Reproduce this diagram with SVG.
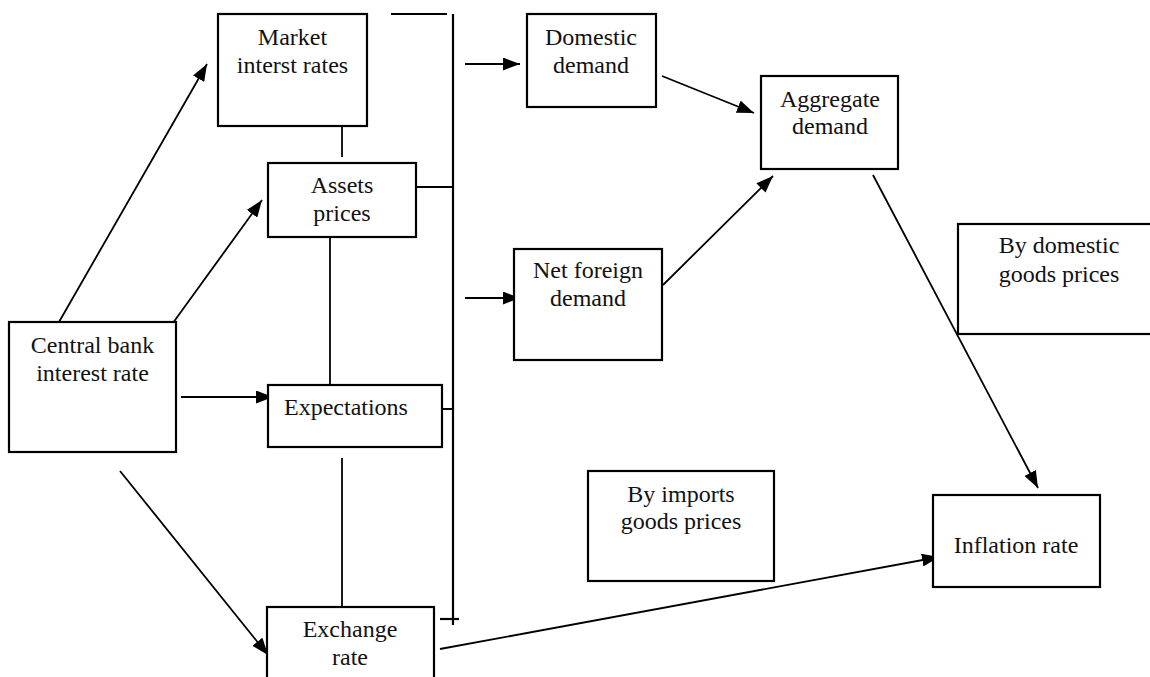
<svg xmlns="http://www.w3.org/2000/svg" width="1150" height="677" viewBox="0 0 1150 677">
<defs>
<marker id="ah" markerUnits="userSpaceOnUse" markerWidth="17" markerHeight="13" refX="17" refY="6.5" orient="auto">
<path d="M0,0 L17,6.5 L0,13 z" fill="#000"/>
</marker>
<style>
.box{fill:#fff;stroke:#000;stroke-width:2.2}
.t{font-family:"Liberation Serif","Times New Roman",serif;font-size:24px;fill:#111;text-anchor:middle}
.ln{stroke:#000;stroke-width:1.8;fill:none}
.ar{stroke:#000;stroke-width:1.8;fill:none;marker-end:url(#ah)}
.bus{stroke:#000;stroke-width:2.2;fill:none}
</style>
</defs>
<rect width="1150" height="677" fill="#fff"/>

<g id="connectors">
<line class="ar" x1="59" y1="322" x2="207" y2="64"/>
<line class="ar" x1="170" y1="327" x2="262" y2="200"/>
<line class="ar" x1="181" y1="397" x2="273" y2="397"/>
<line class="ar" x1="120" y1="471" x2="268" y2="655"/>
<line class="ln" x1="342" y1="126" x2="342" y2="157"/>
<line class="ln" x1="330" y1="237" x2="330" y2="385"/>
<line class="ln" x1="342" y1="458" x2="342" y2="607"/>
<line class="bus" x1="391" y1="14" x2="447" y2="14"/>
<line class="bus" x1="453" y1="14" x2="453" y2="625"/>
<line class="bus" x1="440" y1="619" x2="459" y2="619"/>
<line class="ln" x1="416" y1="187" x2="453" y2="187"/>
<line class="ln" x1="416" y1="409" x2="453" y2="409"/>
<line class="ar" x1="465" y1="64" x2="520" y2="64"/>
<line class="ar" x1="465" y1="298" x2="520" y2="298"/>
<line class="ar" x1="662" y1="76" x2="754" y2="113"/>
<line class="ar" x1="663" y1="285" x2="773" y2="176"/>
<line class="ar" x1="873" y1="175" x2="1038" y2="488"/>
<line class="ar" x1="440" y1="649" x2="939" y2="557"/>
</g>

<g id="market">
<rect class="box" x="218" y="14" width="149" height="112"/>
<text class="t" x="292.5" y="45">Market</text>
<text class="t" x="292.5" y="73">interst rates</text>
</g>
<g id="assets">
<rect class="box" x="268" y="163" width="148" height="74"/>
<text class="t" x="342" y="193">Assets</text>
<text class="t" x="342" y="221">prices</text>
</g>
<g id="central">
<rect class="box" x="9" y="322" width="167" height="130"/>
<text class="t" x="92.5" y="353">Central bank</text>
<text class="t" x="92.5" y="381">interest rate</text>
</g>
<g id="expectations">
<rect class="box" x="268" y="385" width="174" height="62"/>
<text class="t" x="284" y="415" style="text-anchor:start">Expectations</text>
</g>
<g id="exchange">
<rect class="box" x="267" y="607" width="167" height="90"/>
<text class="t" x="350" y="637">Exchange</text>
<text class="t" x="350" y="665">rate</text>
</g>
<g id="domestic">
<rect class="box" x="527" y="14" width="129" height="93"/>
<text class="t" x="591" y="45">Domestic</text>
<text class="t" x="591" y="73">demand</text>
</g>
<g id="netforeign">
<rect class="box" x="514" y="249" width="148" height="111"/>
<text class="t" x="588" y="278">Net foreign</text>
<text class="t" x="588" y="306">demand</text>
</g>
<g id="aggregate">
<rect class="box" x="761" y="76" width="137" height="93"/>
<text class="t" x="830" y="107">Aggregate</text>
<text class="t" x="830" y="134">demand</text>
</g>
<g id="bydomestic">
<rect class="box" x="958" y="224" width="200" height="110" style="fill:none"/>
<text class="t" x="1059" y="253">By domestic</text>
<text class="t" x="1059" y="282">goods prices</text>
</g>
<g id="byimports">
<rect class="box" x="588" y="471" width="186" height="110"/>
<text class="t" x="681" y="502">By imports</text>
<text class="t" x="681" y="529">goods prices</text>
</g>
<g id="inflation">
<rect class="box" x="933" y="495" width="167" height="92"/>
<text class="t" x="1016" y="553">Inflation rate</text>
</g>
</svg>
